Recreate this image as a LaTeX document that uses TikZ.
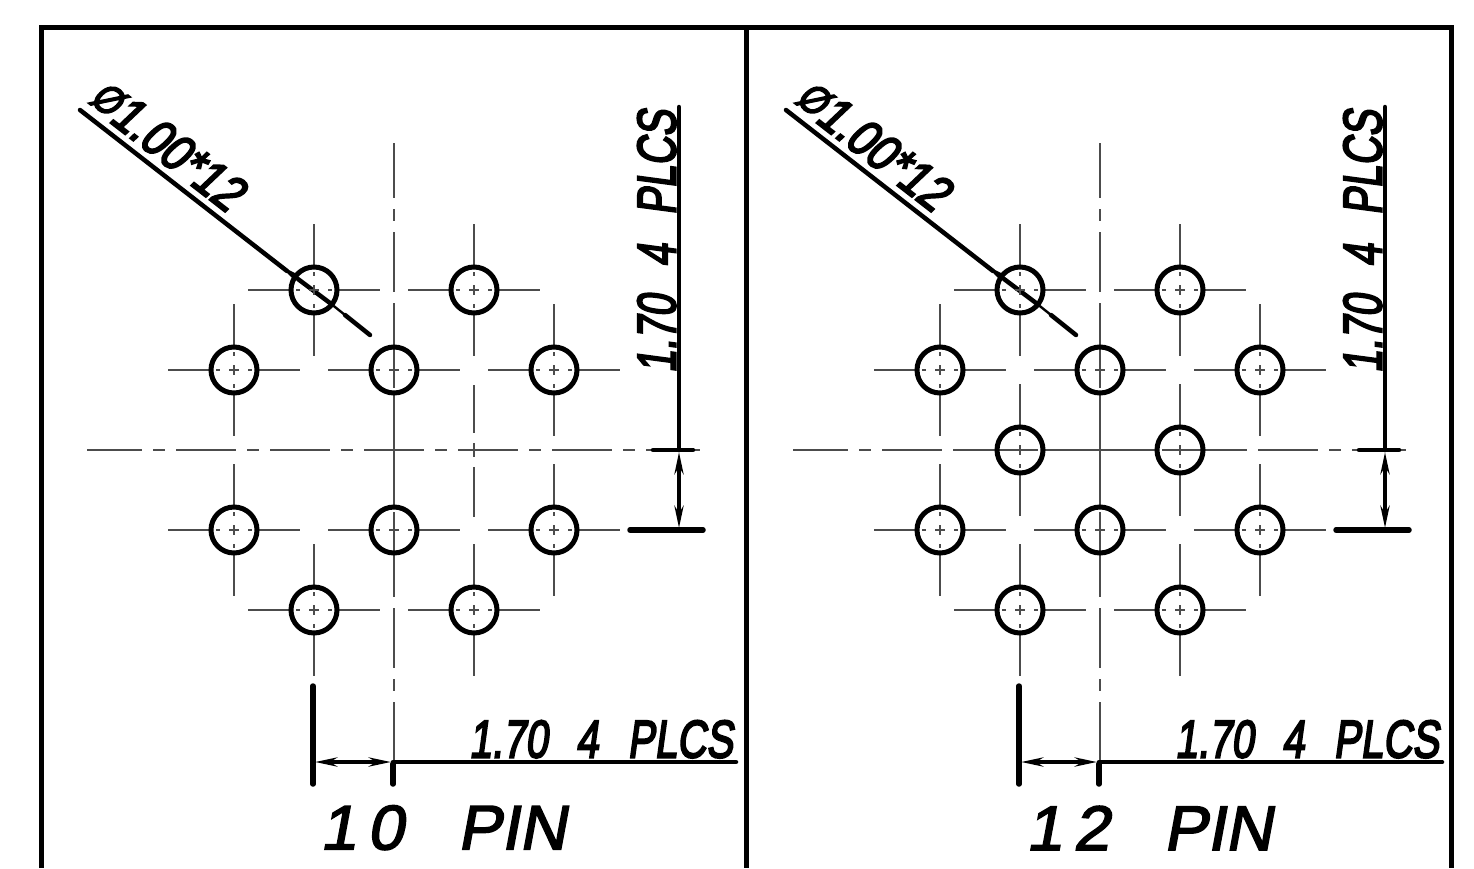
\documentclass[tikz,border=0pt]{standalone}
\usepackage{fontspec}
\usepackage{graphicx}
\usetikzlibrary{arrows.meta}
\newfontfamily\cadfont[FakeSlant=0.18,FakeBold=4]{Liberation Sans}
\newfontfamily\cadtitle[FakeSlant=0.18,FakeBold=2.5]{Liberation Sans}
\newcommand{\fitbox}[3]{\resizebox{#1pt}{#2pt}{\fontsize{50}{50}\selectfont\cadfont #3}}
\newcommand{\platelabel}{1.70\hspace{0.7em}4\hspace{0.72em}PLCS}
\newcommand{\pinmark}[2]{%
  \draw[thin line] (#1-5,#2)--(#1+5,#2) (#1,#2-5)--(#1,#2+5)
    (#1-18,#2)--(#1-14,#2) (#1+14,#2)--(#1+18,#2) (#1,#2-18)--(#1,#2-14) (#1,#2+14)--(#1,#2+18)
    (#1-66,#2)--(#1-21,#2) (#1+21,#2)--(#1+66,#2) (#1,#2-66)--(#1,#2-21) (#1,#2+21)--(#1,#2+66);
  \draw[hole] (#1,#2) circle[radius=23];}
\newcommand{\dimsetup}{%
  \draw[thin line,center dash] (394,143)--(394,760);
  \draw[thin line,center dash] (87,450)--(700,450);
  % leader
  \draw[heavy] (80,110)--(287,271);
  \draw[heavy] (298,279)--(330,303);
  \draw[line width=2.4pt] (330,303)--(345,315);
  \draw[heavy] (345,315)--(370,335);
  \fill (280,265.5)--(299,275)--(295,281)--cycle;
  % right dimension
  \draw[heavy] (679,107)--(679,450);
  \draw[heavy] (653,450)--(693,450);
  \draw[line width=5.5pt,line cap=round] (630,530)--(703,530);
  \draw[dimarrow] (679,452)--(679,528);
  % bottom dimension
  \draw[heavy] (393,762)--(736,762);
  \draw[line width=5.5pt,line cap=round] (313,686)--(313,784);
  \draw[line width=5.5pt,line cap=round] (393,764)--(393,784);
  \draw[dimarrow] (315,762)--(391,762);
}
\tikzset{
  thin line/.style={line width=2pt,black!70},
  hole/.style={line width=5pt,black},
  heavy/.style={line width=4.5pt,black,line cap=round},
  dimarrow/.style={line width=3.6pt,{Stealth[length=22pt,width=9pt]}-{Stealth[length=22pt,width=9pt]}},
  center dash/.style={dash pattern=on 60pt off 11pt on 12pt off 11pt,dash phase=5pt},
  cadlabel/.style={inner sep=0pt,outer sep=0pt,anchor=south west},
}
\begin{document}
\begin{tikzpicture}[x=1pt,y=-1pt]
\useasboundingbox (0,0) rectangle (1474,868);
\fill[white] (0,0) rectangle (1474,868);
% frame
\draw[line width=5pt,line join=miter] (41,868)--(41,27)--(1451,27)--(1451,868);
\draw[line width=5pt] (746.5,27)--(746.5,868);

% ---- left panel: 10 pin
\begin{scope}
  \dimsetup
  \foreach \px/\py in {314/290,474/290,234/370,394/370,554/370,234/530,394/530,554/530,314/610,474/610}{\pinmark{\px}{\py}}
  \draw[thin line] (474,385)--(474,433) (474,443)--(474,457) (474,467)--(474,517);
  \node[cadlabel,rotate=-37.8] (dia10) at (86,104.5) {\fitbox{178}{36}{\raisebox{3pt}{\scalebox{.8}{Ø}}1.00*12}};
  \node[cadlabel,rotate=90,anchor=south west] (vert10) at (676,373) {\fitbox{263}{38}{\platelabel}};
  \node[cadlabel] (horiz10) at (469,758) {\fitbox{264}{37}{\platelabel}};
  \node[cadlabel] (title10) at (320,850) {\resizebox{246pt}{44pt}{\fontsize{60}{60}\selectfont\cadtitle 1\,0\ \ \ PIN}};
\end{scope}

% ---- right panel: 12 pin
\begin{scope}[shift={(706,0)}]
  \dimsetup
  \foreach \px/\py in {314/290,474/290,234/370,394/370,554/370,314/450,474/450,234/530,394/530,554/530,314/610,474/610}{\pinmark{\px}{\py}}
  \node[cadlabel,rotate=-37.8] (dia12) at (86,104.5) {\fitbox{178}{36}{\raisebox{3pt}{\scalebox{.8}{Ø}}1.00*12}};
  \node[cadlabel,rotate=90,anchor=south west] (vert12) at (676,373) {\fitbox{263}{38}{\platelabel}};
  \node[cadlabel] (horiz12) at (469,758) {\fitbox{264}{37}{\platelabel}};
  \node[cadlabel] (title12) at (320,850) {\resizebox{246pt}{44pt}{\fontsize{60}{60}\selectfont\cadtitle 1\,2\ \ \ PIN}};
\end{scope}
\end{tikzpicture}
\end{document}
